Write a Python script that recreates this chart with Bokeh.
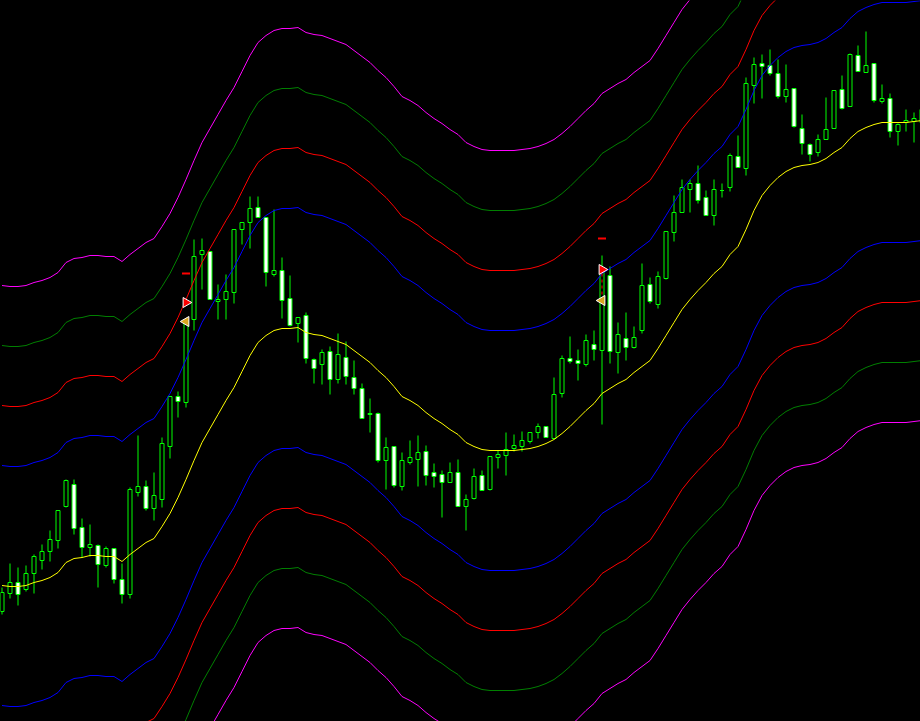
import numpy as np
from bokeh.plotting import figure
from bokeh.models import ColumnDataSource, Range1d
from bokeh.embed import file_html
from bokeh.resources import INLINE

# ---- OHLC data (one bar per period) ----
opens = [1.3110, 1.3128, 1.3139, 1.3132, 1.3148, 1.3161, 1.3170, 1.3181, 1.3215, 1.3237,
         1.3194, 1.3174, 1.3176, 1.3156, 1.3173, 1.3142, 1.3127, 1.3229, 1.3235, 1.3213,
         1.3222, 1.3275, 1.3325, 1.3319, 1.3402, 1.3467, 1.3470, 1.3420, 1.3422, 1.3429,
         1.3492, 1.3499, 1.3514, 1.3504, 1.3447, 1.3451, 1.3423, 1.3398, 1.3406, 1.3362,
         1.3357, 1.3370, 1.3342, 1.3364, 1.3344, 1.3333, 1.3307, 1.3308, 1.3261, 1.3275,
         1.3235, 1.3259, 1.3262, 1.3270, 1.3249, 1.3247, 1.3239, 1.3249, 1.3215, 1.3223,
         1.3246, 1.3232, 1.3264, 1.3266, 1.3273, 1.3275, 1.3280, 1.3289, 1.3295, 1.3283,
         1.3328, 1.3363, 1.3361, 1.3357, 1.3377, 1.3371, 1.3446, 1.3369, 1.3383, 1.3374,
         1.3391, 1.3437, 1.3417, 1.3443, 1.3489, 1.3509, 1.3532, 1.3538, 1.3524, 1.3506,
         1.3531, 1.3534, 1.3565, 1.3553, 1.3636, 1.3658, 1.3656, 1.3648, 1.3625, 1.3633,
         1.3593, 1.3577, 1.3569, 1.3582, 1.3593, 1.3632, 1.3615, 1.3666, 1.3649, 1.3658,
         1.3620, 1.3623, 1.3590, 1.3599, 1.3600, 1.3599]
highs = [1.3134, 1.3158, 1.3154, 1.3156, 1.3167, 1.3177, 1.3191, 1.3211, 1.3242, 1.3242,
         1.3203, 1.3197, 1.3177, 1.3175, 1.3173, 1.3158, 1.3234, 1.3286, 1.3241, 1.3249,
         1.3284, 1.3325, 1.3330, 1.3403, 1.3482, 1.3483, 1.3470, 1.3437, 1.3447, 1.3492,
         1.3499, 1.3525, 1.3525, 1.3504, 1.3512, 1.3464, 1.3446, 1.3404, 1.3409, 1.3363,
         1.3372, 1.3375, 1.3388, 1.3380, 1.3361, 1.3338, 1.3323, 1.3309, 1.3284, 1.3275,
         1.3269, 1.3281, 1.3286, 1.3276, 1.3258, 1.3251, 1.3259, 1.3262, 1.3227, 1.3253,
         1.3251, 1.3265, 1.3271, 1.3289, 1.3287, 1.3290, 1.3289, 1.3298, 1.3295, 1.3344,
         1.3366, 1.3385, 1.3372, 1.3387, 1.3391, 1.3466, 1.3455, 1.3399, 1.3409, 1.3395,
         1.3458, 1.3444, 1.3450, 1.3490, 1.3526, 1.3542, 1.3542, 1.3556, 1.3531, 1.3542,
         1.3538, 1.3568, 1.3586, 1.3644, 1.3664, 1.3667, 1.3672, 1.3662, 1.3657, 1.3633,
         1.3607, 1.3578, 1.3587, 1.3624, 1.3631, 1.3646, 1.3668, 1.3676, 1.3690, 1.3658,
         1.3637, 1.3628, 1.3598, 1.3612, 1.3609, 1.3612]
lows = [1.3107, 1.3123, 1.3116, 1.3130, 1.3128, 1.3152, 1.3160, 1.3173, 1.3214, 1.3187,
        1.3164, 1.3165, 1.3134, 1.3154, 1.3138, 1.3118, 1.3123, 1.3225, 1.3211, 1.3201,
        1.3214, 1.3263, 1.3304, 1.3314, 1.3391, 1.3432, 1.3422, 1.3402, 1.3402, 1.3418,
        1.3477, 1.3473, 1.3504, 1.3435, 1.3445, 1.3403, 1.3395, 1.3379, 1.3358, 1.3338,
        1.3337, 1.3327, 1.3338, 1.3337, 1.3327, 1.3303, 1.3289, 1.3259, 1.3232, 1.3234,
        1.3231, 1.3257, 1.3235, 1.3236, 1.3234, 1.3204, 1.3239, 1.3215, 1.3191, 1.3222,
        1.3231, 1.3231, 1.3253, 1.3246, 1.3270, 1.3270, 1.3278, 1.3283, 1.3284, 1.3283,
        1.3324, 1.3358, 1.3341, 1.3355, 1.3361, 1.3297, 1.3358, 1.3348, 1.3361, 1.3373,
        1.3388, 1.3418, 1.3413, 1.3442, 1.3480, 1.3509, 1.3509, 1.3518, 1.3506, 1.3496,
        1.3524, 1.3530, 1.3554, 1.3546, 1.3618, 1.3623, 1.3646, 1.3623, 1.3619, 1.3594,
        1.3567, 1.3560, 1.3565, 1.3582, 1.3593, 1.3612, 1.3615, 1.3650, 1.3649, 1.3619,
        1.3618, 1.3584, 1.3576, 1.3590, 1.3579, 1.3596]
closes = [1.3129, 1.3139, 1.3127, 1.3148, 1.3165, 1.3170, 1.3182, 1.3211, 1.3241, 1.3193,
          1.3174, 1.3177, 1.3157, 1.3173, 1.3142, 1.3127, 1.3232, 1.3235, 1.3213, 1.3226,
          1.3278, 1.3325, 1.3320, 1.3402, 1.3465, 1.3471, 1.3422, 1.3422, 1.3430, 1.3492,
          1.3499, 1.3513, 1.3504, 1.3449, 1.3451, 1.3421, 1.3396, 1.3404, 1.3363, 1.3353,
          1.3369, 1.3342, 1.3367, 1.3345, 1.3333, 1.3303, 1.3308, 1.3261, 1.3274, 1.3236,
          1.3261, 1.3264, 1.3269, 1.3246, 1.3245, 1.3239, 1.3249, 1.3215, 1.3222, 1.3245,
          1.3231, 1.3265, 1.3267, 1.3272, 1.3276, 1.3281, 1.3289, 1.3295, 1.3284, 1.3327,
          1.3363, 1.3360, 1.3358, 1.3381, 1.3372, 1.3450, 1.3370, 1.3387, 1.3374, 1.3384,
          1.3436, 1.3420, 1.3445, 1.3490, 1.3509, 1.3534, 1.3538, 1.3521, 1.3506, 1.3532,
          1.3531, 1.3566, 1.3554, 1.3638, 1.3657, 1.3655, 1.3648, 1.3625, 1.3632, 1.3595,
          1.3578, 1.3567, 1.3582, 1.3592, 1.3631, 1.3613, 1.3667, 1.3650, 1.3656, 1.3621,
          1.3623, 1.3590, 1.3597, 1.3601, 1.3603, 1.3612]

# ---- centred moving average (yellow) ----
tma_mid = [1.3136, 1.3135, 1.3135, 1.3136, 1.3139, 1.3141, 1.3144, 1.3149, 1.3159, 1.3163,
           1.3164, 1.3166, 1.3166, 1.3165, 1.3165, 1.3160, 1.3167, 1.3173, 1.3179, 1.3183,
           1.3195, 1.3208, 1.3224, 1.3242, 1.3261, 1.3279, 1.3293, 1.3307, 1.3321, 1.3334,
           1.3350, 1.3366, 1.3379, 1.3386, 1.3391, 1.3393, 1.3393, 1.3394, 1.3389, 1.3387,
           1.3386, 1.3383, 1.3380, 1.3377, 1.3371, 1.3365, 1.3359, 1.3351, 1.3344, 1.3335,
           1.3325, 1.3321, 1.3316, 1.3309, 1.3303, 1.3298, 1.3292, 1.3287, 1.3279, 1.3275,
           1.3272, 1.3271, 1.3271, 1.3271, 1.3271, 1.3272, 1.3273, 1.3275, 1.3278, 1.3282,
           1.3288, 1.3295, 1.3303, 1.3311, 1.3318, 1.3328, 1.3333, 1.3338, 1.3342, 1.3349,
           1.3355, 1.3361, 1.3373, 1.3386, 1.3399, 1.3412, 1.3422, 1.3431, 1.3439, 1.3448,
           1.3455, 1.3467, 1.3475, 1.3492, 1.3511, 1.3526, 1.3536, 1.3544, 1.3550, 1.3554,
           1.3556, 1.3557, 1.3559, 1.3563, 1.3569, 1.3574, 1.3583, 1.3590, 1.3594, 1.3597,
           1.3599, 1.3599, 1.3599, 1.3599, 1.3600, 1.3601]

# ---- band half-widths and colours ----
band_offsets = [0.0120, 0.0180, 0.0240, 0.0300]
band_colors = ["#0000FF", "#FF0000", "#008000", "#FF00FF"]

# ---- trade signals ----
signal_bars = [23, 75]
sell_arrow = [1.3419, 1.3452]
sell_level = [1.3448, 1.3483]
close_mark = [1.3400, 1.3421]
trade_line_bar = [75]
trade_line_open = [1.3448]
trade_line_close = [1.3421]

x = list(range(len(opens)))
bear = [c < o for o, c in zip(opens, closes)]
src = ColumnDataSource(dict(
    x=x, high=highs, low=lows,
    top=[max(o, c) for o, c in zip(opens, closes)],
    bottom=[min(o, c) for o, c in zip(opens, closes)],
    fill=["#FFFFFF" if b else "#000000" for b in bear],
))

p = figure(width=920, height=721, output_backend="svg", toolbar_location=None,
           x_range=Range1d(-0.1875, 114.8125), y_range=Range1d(1.3000, 1.3721),
           background_fill_color="#000000", border_fill_color="#000000",
           min_border=0, min_border_left=0, min_border_right=0,
           min_border_top=0, min_border_bottom=0)
p.axis.visible = False
p.grid.visible = False
p.outline_line_color = None

# candles
p.segment(x0="x", y0="high", x1="x", y1="low", source=src, line_color="#00FF00", line_width=1)
p.vbar(x="x", width=0.5, top="top", bottom="bottom", source=src,
       fill_color="fill", line_color="#00FF00", line_width=1)

# bands
mid = np.array(tma_mid)
p.line(x, tma_mid, line_color="#FFFF00", line_width=1)
for off, col in zip(band_offsets, band_colors):
    p.line(x, list(mid + off), line_color=col, line_width=1)
    p.line(x, list(mid - off), line_color=col, line_width=1)

# signals
p.segment(x0=trade_line_bar, y0=trade_line_open, x1=trade_line_bar, y1=trade_line_close,
          line_color="#FF0000", line_width=1, line_dash="3 3")
p.scatter(x=signal_bars, y=sell_level, marker="dash", size=8, line_color="#FF0000", line_width=2)
p.scatter(x=signal_bars, y=sell_arrow, marker="triangle", angle=-np.pi / 2, size=10,
          fill_color="#FF0000", line_color="#FFFFFF", line_width=1)
p.scatter(x=signal_bars, y=close_mark, marker="triangle", angle=np.pi / 2, size=10,
          fill_color="#DAA520", line_color="#FFFFFF", line_width=1)

html = file_html(p, INLINE, title="TMA bands")
html = html.replace("</head>", "<style>body{background-color:#000000;}</style></head>", 1)
open("out.html", "w").write(html)
